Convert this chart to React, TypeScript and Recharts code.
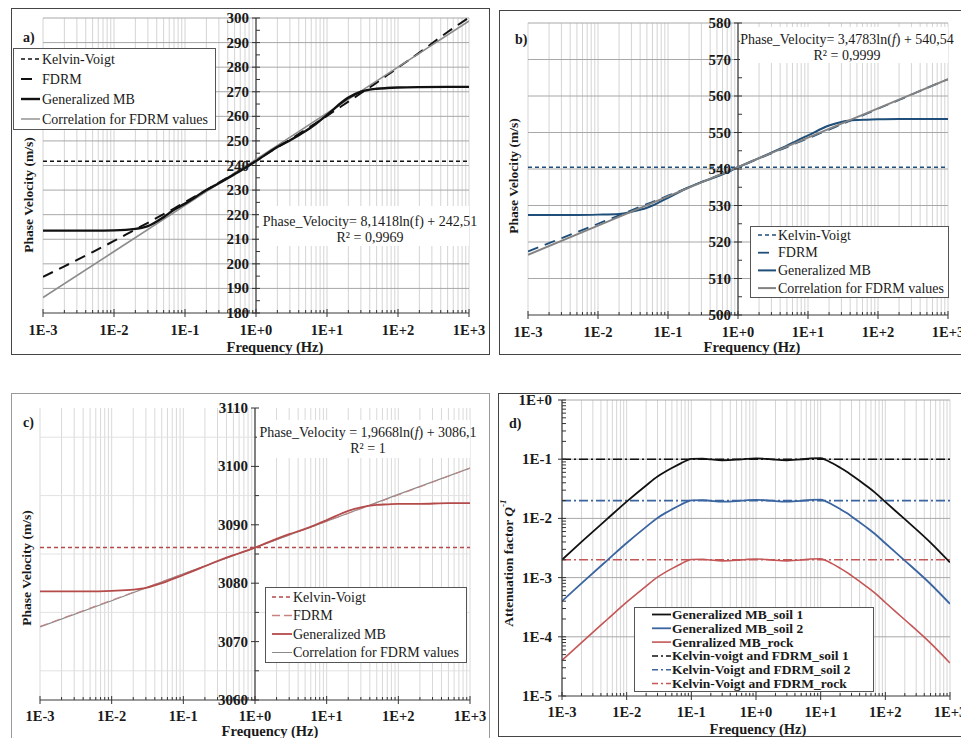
import React from 'react';
import { LineChart, Line, XAxis, YAxis, CartesianGrid } from 'recharts';

const FONT = '"Liberation Serif", "DejaVu Serif", "Times New Roman", serif';

// ---------- axes ----------
const DECADES = [0.001, 0.01, 0.1, 1, 10, 100, 1000];
const MULTS = [1, 2, 3, 4, 5, 6, 7, 8, 9];
const X_MINOR = DECADES.slice(0, -1)
  .flatMap((d) => MULTS.map((m) => Number((m * d).toPrecision(2))))
  .concat([1000]);
const Y_DECADES_D = [0.00001, 0.0001, 0.001, 0.01, 0.1];
const Y_TICKS_D = Y_DECADES_D.flatMap((d) => MULTS.map((m) => Number((m * d).toPrecision(2)))).concat([1]);
const range = (a: number, b: number, s: number) => {
  const out: number[] = [];
  for (let v = a; v <= b + 1e-9; v += s) out.push(Number(v.toFixed(4)));
  return out;
};
const Y_TICKS_A = range(180, 300, 5);
const Y_GRID_A = range(190, 300, 10);
const Y_TICKS_B = range(500, 580, 5);
const Y_GRID_B = range(510, 580, 10);
const Y_TICKS_C = range(3060, 3110, 5);
const Y_GRID_C = [3065, 3075, 3085, 3095, 3105];
const Y_GRID_D = [0.0001, 0.001, 0.01, 0.1, 1];

// ---------- data ----------
const FREQ = [0.001, 0.002, 0.005, 0.01, 0.02, 0.03, 0.05, 0.07, 0.1, 0.2, 0.3, 0.5, 0.7, 1, 2, 3, 5, 7, 10, 20, 30, 50, 70, 100, 200, 500, 1000];

// panel a
const A_KV = 241.7;
const A_FDRM = [194.7, 199.0, 204.8, 209.3, 214.0, 216.7, 220.2, 222.5, 225.1, 230.0, 233.0, 236.8, 239.3, 242.0, 247.4, 250.5, 254.6, 257.3, 260.2, 266.0, 269.4, 273.7, 276.7, 279.8, 285.9, 294.3, 300.2];
const A_GMB = [213.5, 213.5, 213.5, 213.6, 214.2, 215.3, 219.0, 222.0, 224.5, 230.0, 232.8, 236.5, 239.0, 241.8, 247.5, 250.2, 254.0, 257.0, 260.6, 267.6, 270.0, 271.2, 271.5, 271.7, 271.9, 272.0, 272.0];
const A_CORR = [186.3, 205.0, 223.8, 242.5, 261.3, 280.0, 298.8];

// panel b
const B_KV = 540.5;
const B_FDRM = [517.4, 519.7, 522.7, 525.0, 527.3, 528.7, 530.4, 531.5, 532.7, 535.0, 536.4, 538.1, 539.3, 540.5, 542.9, 544.3, 546.0, 547.2, 548.4, 550.8, 552.2, 554.0, 555.2, 556.5, 558.9, 562.2, 564.6];
const B_GMB = [527.4, 527.4, 527.4, 527.5, 527.7, 528.3, 529.4, 530.6, 532.1, 535.0, 536.4, 537.9, 539.1, 540.5, 543.0, 544.5, 546.4, 547.8, 549.2, 551.9, 552.9, 553.4, 553.5, 553.6, 553.7, 553.7, 553.7];
const B_CORR = [516.5, 524.5, 532.5, 540.5, 548.6, 556.6, 564.6];

// panel c
const C_KV = 3086.1;
const C_FDRM = [3072.6, 3077.1, 3081.6, 3086.1, 3090.6, 3095.1, 3099.7];
const C_GMB = [3078.6, 3078.6, 3078.6, 3078.7, 3078.9, 3079.2, 3080.0, 3080.7, 3081.4, 3082.9, 3083.8, 3084.8, 3085.4, 3086.1, 3087.6, 3088.4, 3089.3, 3090.0, 3090.8, 3092.4, 3093.0, 3093.4, 3093.5, 3093.6, 3093.6, 3093.7, 3093.7];
const C_CORR = [3072.5, 3077.0, 3081.6, 3086.1, 3090.6, 3095.2, 3099.7];

// panel d
const FREQ_D = [0.001, 0.002, 0.005, 0.01, 0.02, 0.03, 0.04, 0.05, 0.07, 0.085, 0.1, 0.15, 0.2, 0.3, 0.5, 0.7, 1, 1.5, 2, 3, 5, 7, 10, 12, 15, 20, 25, 30, 50, 70, 100, 200, 500, 1000];
const D_SOIL1 = [0.002, 0.004, 0.0098, 0.0192, 0.036, 0.051, 0.062, 0.071, 0.086, 0.095, 0.101, 0.102, 0.099, 0.096, 0.098, 0.101, 0.103, 0.101, 0.098, 0.096, 0.099, 0.103, 0.104, 0.097, 0.086, 0.072, 0.062, 0.054, 0.036, 0.027, 0.019, 0.0097, 0.0039, 0.0018];
const D_SOIL2 = [0.0004, 0.0008, 0.00196, 0.00384, 0.0072, 0.0102, 0.0124, 0.0142, 0.0172, 0.019, 0.0202, 0.0204, 0.0198, 0.0192, 0.0196, 0.0202, 0.0206, 0.0202, 0.0196, 0.0192, 0.0198, 0.0206, 0.0208, 0.0194, 0.0172, 0.0144, 0.0124, 0.0108, 0.0072, 0.0054, 0.0038, 0.00194, 0.00078, 0.00036];
const D_ROCK = [0.00004, 0.00008, 0.000196, 0.000384, 0.00072, 0.00102, 0.00124, 0.00142, 0.00172, 0.0019, 0.00202, 0.00204, 0.00198, 0.00192, 0.00196, 0.00202, 0.00206, 0.00202, 0.00196, 0.00192, 0.00198, 0.00206, 0.00208, 0.00194, 0.00172, 0.00144, 0.00124, 0.00108, 0.00072, 0.00054, 0.00038, 0.000194, 0.000078, 0.000036];
const D_KV_SOIL1 = 0.1;
const D_KV_SOIL2 = 0.02;
const D_KV_ROCK = 0.002;

type Pt = { f: number; v: number };
const zip = (fs: number[], vs: number[]): Pt[] => fs.map((f, i) => ({ f, v: vs[i] }));
const flat = (v: number): Pt[] => [{ f: DECADES[0], v }, { f: DECADES[DECADES.length - 1], v }];

// ---------- colours ----------
const BLACK = '#111111';
const GRAY = '#8c8c8c';
const NAVY = '#1f4e79';
const RED_C = '#b54a4a';
const RED_C_LIGHT = '#c98080';
const BLUE_D = '#3a65a0';
const RED_D = '#c55656';

const Y_AXIS_W = 20;

interface SeriesDef { data: Pt[]; stroke: string; width: number; dash?: string; curve?: 'linear' | 'monotone' }
interface PanelDef {
  left: number; top: number; width: number; height: number;
  plot: { top: number; right: number; bottom: number; left: number };
  yDomain: [number, number]; yTicks: number[]; yLog?: boolean;
  yMajor: (v: number) => boolean; yFmt: (v: number) => string;
  yCenter: boolean; yGap: number;
  hGrid: number[]; hGridColor: string; vGridColor: string;
  xLabelDy: number;
  series: SeriesDef[];
}

const isDecade = (v: number) => Math.abs(Math.log10(v) - Math.round(Math.log10(v))) < 1e-6;
const fmtE = (v: number) => {
  const e = Math.round(Math.log10(v));
  return `1E${e >= 0 ? '+' : '-'}${Math.abs(e)}`;
};

const xTick = (dy: number) => (props: any) => {
  const { x, y, payload } = props;
  const v = payload.value as number;
  const major = isDecade(v);
  return (
    <g>
      <line x1={x} x2={x} y1={major ? y - 4 : y - 3} y2={major ? y + 4 : y} stroke="#333" strokeWidth={1} />
      {major && (
        <text x={x} y={y + dy} textAnchor="middle" dominantBaseline="central" style={{ fontFamily: FONT }} fontWeight="bold" fontSize={14.5} fill="#1a1a1a">
          {fmtE(v)}
        </text>
      )}
    </g>
  );
};

const yTick = (shift: number, gap: number, isMajor: (v: number) => boolean, fmt: (v: number) => string) => (props: any) => {
  const X = props.x + shift;
  const y = props.y;
  const v = props.payload.value as number;
  const major = isMajor(v);
  return (
    <g>
      {major ? (
        <line x1={X - 4} x2={X + 4} y1={y} y2={y} stroke="#333" strokeWidth={1} />
      ) : (
        <line x1={X} x2={X + 4} y1={y} y2={y} stroke="#333" strokeWidth={1} />
      )}
      {major && (
        <text x={X - gap} y={y} textAnchor="end" dominantBaseline="central" style={{ fontFamily: FONT }} fontWeight="bold" fontSize={15} fill="#1a1a1a">
          {fmt(v)}
        </text>
      )}
    </g>
  );
};

function Panel({ p }: { p: PanelDef }) {
  const margin = {
    top: p.plot.top,
    right: p.plot.right,
    bottom: p.plot.bottom - 30,
    left: p.plot.left - Y_AXIS_W,
  };
  const plotW = p.width - p.plot.left - p.plot.right;
  const shift = p.yCenter ? plotW / 2 : 0;
  return (
    <div style={{ position: 'absolute', left: p.left, top: p.top }}>
      <LineChart width={p.width} height={p.height} margin={margin}>
        <CartesianGrid horizontal={false} verticalValues={X_MINOR} stroke={p.vGridColor} strokeWidth={1} />
        <CartesianGrid vertical={false} horizontalValues={p.hGrid} stroke={p.hGridColor} strokeWidth={1} />
        {p.yCenter && <CartesianGrid horizontal={false} verticalValues={[1]} stroke="#3a3a3a" strokeWidth={1.2} />}
        <XAxis
          dataKey="f"
          type="number"
          scale="log"
          domain={[0.001, 1000]}
          ticks={X_MINOR}
          interval={0}
          allowDataOverflow
          height={30}
          tickSize={0}
          tickMargin={0}
          axisLine={{ stroke: '#3a3a3a', strokeWidth: 1.2 }}
          tickLine={false}
          tick={xTick(p.xLabelDy)}
        />
        <YAxis
          type="number"
          scale={p.yLog ? 'log' : 'linear'}
          domain={p.yDomain}
          ticks={p.yTicks}
          interval={0}
          allowDataOverflow
          width={Y_AXIS_W}
          tickSize={0}
          tickMargin={0}
          axisLine={p.yCenter ? false : { stroke: '#3a3a3a', strokeWidth: 1.2 }}
          tickLine={false}
          tick={yTick(shift, p.yGap, p.yMajor, p.yFmt)}
        />
        {p.series.map((s, i) => (
          <Line
            key={i}
            data={s.data}
            dataKey="v"
            type={s.curve ?? 'linear'}
            stroke={s.stroke}
            strokeWidth={s.width}
            strokeDasharray={s.dash}
            dot={false}
            activeDot={false}
            isAnimationActive={false}
            legendType="none"
          />
        ))}
      </LineChart>
    </div>
  );
}

const PANEL_A: PanelDef = {
  left: 11, top: 8, width: 479, height: 347,
  plot: { top: 10, right: 21, bottom: 42, left: 32 },
  yDomain: [180, 300], yTicks: Y_TICKS_A, yMajor: (v) => v % 10 === 0, yFmt: (v) => String(v),
  yCenter: true, yGap: 7, hGrid: Y_GRID_A, hGridColor: '#a8a8a8', vGridColor: '#d4d4d4', xLabelDy: 17,
  series: [
    { data: flat(A_KV), stroke: BLACK, width: 1.5, dash: '4 3' },
    { data: zip(FREQ, A_FDRM), stroke: BLACK, width: 2, dash: '11 7', curve: 'monotone' },
    { data: zip(DECADES, A_CORR), stroke: GRAY, width: 1.6 },
    { data: zip(FREQ, A_GMB), stroke: BLACK, width: 2.4, curve: 'monotone' },
  ],
};

const PANEL_B: PanelDef = {
  left: 499, top: 10, width: 462, height: 345,
  plot: { top: 13, right: 13, bottom: 40, left: 29 },
  yDomain: [500, 580], yTicks: Y_TICKS_B, yMajor: (v) => v % 10 === 0, yFmt: (v) => String(v),
  yCenter: true, yGap: 7, hGrid: Y_GRID_B, hGridColor: '#a8a8a8', vGridColor: '#d4d4d4', xLabelDy: 17,
  series: [
    { data: flat(B_KV), stroke: NAVY, width: 1.5, dash: '4 3' },
    { data: zip(FREQ, B_FDRM), stroke: NAVY, width: 1.8, dash: '11 7', curve: 'monotone' },
    { data: zip(FREQ, B_GMB), stroke: NAVY, width: 2, curve: 'monotone' },
    { data: zip(DECADES, B_CORR), stroke: '#838383', width: 2 },
  ],
};

const PANEL_C: PanelDef = {
  left: 11, top: 393, width: 479, height: 345,
  plot: { top: 15, right: 20, bottom: 38, left: 29 },
  yDomain: [3060, 3110], yTicks: Y_TICKS_C, yMajor: (v) => v % 10 === 0, yFmt: (v) => String(v),
  yCenter: true, yGap: 7, hGrid: Y_GRID_C, hGridColor: '#e2e2e2', vGridColor: '#d9d9d9', xLabelDy: 16,
  series: [
    { data: flat(C_KV), stroke: RED_C, width: 1.5, dash: '4 3' },
    { data: zip(DECADES, C_CORR), stroke: '#8a8a8a', width: 1.2 },
    { data: zip(DECADES, C_FDRM), stroke: RED_C_LIGHT, width: 1, dash: '8 5' },
    { data: zip(FREQ, C_GMB), stroke: RED_C, width: 1.8, curve: 'monotone' },
  ],
};

const PANEL_D: PanelDef = {
  left: 498, top: 393, width: 463, height: 344,
  plot: { top: 7, right: 11, bottom: 41, left: 64 },
  yDomain: [0.00001, 1], yTicks: Y_TICKS_D, yLog: true, yMajor: isDecade, yFmt: fmtE,
  yCenter: false, yGap: 10, hGrid: Y_GRID_D, hGridColor: '#a8a8a8', vGridColor: '#d6d6d6', xLabelDy: 16,
  series: [
    { data: flat(D_KV_SOIL1), stroke: BLACK, width: 1.6, dash: '9 3 2 3' },
    { data: flat(D_KV_SOIL2), stroke: BLUE_D, width: 1.6, dash: '9 3 2 3' },
    { data: flat(D_KV_ROCK), stroke: RED_D, width: 1.6, dash: '9 3 2 3' },
    { data: zip(FREQ_D, D_SOIL1), stroke: BLACK, width: 1.8, curve: 'monotone' },
    { data: zip(FREQ_D, D_SOIL2), stroke: BLUE_D, width: 1.8, curve: 'monotone' },
    { data: zip(FREQ_D, D_ROCK), stroke: RED_D, width: 1.6, curve: 'monotone' },
  ],
};

interface LegendRow { label: string; stroke: string; width: number; dash?: string }
function LegendBox({ x, y, w, h, rows, y0, step, sx1, sx2, tx, size, bold }: {
  x: number; y: number; w: number; h: number; rows: LegendRow[]; y0: number; step: number;
  sx1: number; sx2: number; tx: number; size: number; bold?: boolean;
}) {
  return (
    <g>
      <rect x={x + 0.5} y={y + 0.5} width={w} height={h} fill="#fff" stroke="#555" strokeWidth={1} />
      {rows.map((r, i) => {
        const yy = y0 + i * step;
        return (
          <g key={i}>
            <line x1={sx1} x2={sx2} y1={yy} y2={yy} stroke={r.stroke} strokeWidth={r.width} strokeDasharray={r.dash} />
            <text x={tx} y={yy} dominantBaseline="central" style={{ fontFamily: FONT }} fontSize={size} fontWeight={bold ? 'bold' : 'normal'} fill="#1a1a1a">
              {r.label}
            </text>
          </g>
        );
      })}
    </g>
  );
}

const TS = { fontFamily: FONT } as const;

function YTitle({ x, y, children }: { x: number; y: number; children: React.ReactNode }) {
  return (
    <text x={x} y={y} transform={`rotate(-90 ${x} ${y})`} textAnchor="middle" dominantBaseline="central" fontSize={13.5} fontWeight="bold" fill="#1a1a1a" style={TS}>
      {children}
    </text>
  );
}
function XTitle({ x, y, children }: { x: number; y: number; children: React.ReactNode }) {
  return (
    <text x={x} y={y} textAnchor="middle" dominantBaseline="central" fontSize={14.5} fontWeight="bold" fill="#1a1a1a" style={TS}>
      {children}
    </text>
  );
}
function T({ x, y, children, size = 14, bold, anchor = 'start' }: { x: number; y: number; children: React.ReactNode; size?: number; bold?: boolean; anchor?: 'start' | 'middle' | 'end' }) {
  return (
    <text x={x} y={y} textAnchor={anchor} dominantBaseline="central" fontSize={size} fontWeight={bold ? 'bold' : 'normal'} fill="#1a1a1a" style={TS}>
      {children}
    </text>
  );
}

export default function App() {
  return (
    <div style={{ position: 'absolute', left: 0, top: 0, width: 961, height: 738, overflow: 'hidden', background: '#fff', fontFamily: FONT }}>
      <div style={{ position: 'absolute', left: 11, top: 8, width: 479, height: 347, border: '1px solid #444', boxSizing: 'border-box' }} />
      <div style={{ position: 'absolute', left: 499, top: 10, width: 480, height: 345, border: '1px solid #444', boxSizing: 'border-box' }} />
      <div style={{ position: 'absolute', left: 11, top: 393, width: 479, height: 360, border: '1px solid #999', boxSizing: 'border-box' }} />
      <div style={{ position: 'absolute', left: 498, top: 393, width: 480, height: 344, border: '1px solid #444', boxSizing: 'border-box' }} />

      <Panel p={PANEL_A} />
      <Panel p={PANEL_B} />
      <Panel p={PANEL_C} />
      <Panel p={PANEL_D} />

      <svg width={961} height={738} style={{ position: 'absolute', left: 0, top: 0, pointerEvents: 'none' }}>
        {/* panel a */}
        <T x={23} y={37} bold>a)</T>
        <LegendBox
          x={13} y={48} w={202} h={81} y0={59} step={20} sx1={21} sx2={40} tx={42} size={14}
          rows={[
            { label: 'Kelvin-Voigt', stroke: BLACK, width: 1.5, dash: '4 3' },
            { label: 'FDRM', stroke: BLACK, width: 2, dash: '11 9' },
            { label: 'Generalized MB', stroke: BLACK, width: 2.4 },
            { label: 'Correlation for FDRM values', stroke: GRAY, width: 1.4 },
          ]}
        />
        <rect x={259} y={206} width={210} height={40} fill="#fff" />
        <T x={370} y={221} anchor="middle">Phase_Velocity= 8,1418ln(f) + 242,51</T>
        <T x={370} y={237} anchor="middle">R² = 0,9969</T>
        <XTitle x={275} y={347}>Frequency (Hz)</XTitle>
        <YTitle x={28} y={195}>Phase Velocity (m/s)</YTitle>

        {/* panel b */}
        <T x={515} y={39} bold>b)</T>
        <LegendBox
          x={750} y={226} w={198} h={71} y0={235} step={17.7} sx1={758} sx2={776} tx={778} size={14}
          rows={[
            { label: 'Kelvin-Voigt', stroke: NAVY, width: 1.5, dash: '4 3' },
            { label: 'FDRM', stroke: NAVY, width: 1.8, dash: '11 9' },
            { label: 'Generalized MB', stroke: NAVY, width: 2 },
            { label: 'Correlation for FDRM values', stroke: '#838383', width: 2 },
          ]}
        />
        <rect x={740} y={27} width={208} height={36} fill="#fff" />
        <T x={847} y={39} anchor="middle">
          Phase_Velocity= 3,4783ln(<tspan fontStyle="italic">f</tspan>) + 540,54
        </T>
        <T x={847} y={55} anchor="middle">R² = 0,9999</T>
        <XTitle x={752} y={347}>Frequency (Hz)</XTitle>
        <YTitle x={513} y={176}>Phase Velocity (m/s)</YTitle>

        {/* panel c */}
        <T x={23} y={422} bold>c)</T>
        <LegendBox
          x={265} y={587} w={201} h={75} y0={597} step={18.5} sx1={272} sx2={292} tx={293} size={14}
          rows={[
            { label: 'Kelvin-Voigt', stroke: RED_C, width: 1.5, dash: '4 3' },
            { label: 'FDRM', stroke: RED_C_LIGHT, width: 1.5, dash: '8 4' },
            { label: 'Generalized MB', stroke: RED_C, width: 1.8 },
            { label: 'Correlation for FDRM values', stroke: '#8a8a8a', width: 1 },
          ]}
        />
        <rect x={257} y={420} width={213} height={38} fill="#fff" />
        <T x={368} y={432} anchor="middle">
          Phase_Velocity = 1,9668ln(<tspan fontStyle="italic">f</tspan>) + 3086,1
        </T>
        <T x={368} y={448} anchor="middle">R² = 1</T>
        <XTitle x={270} y={731}>Frequency (Hz)</XTitle>
        <YTitle x={26} y={568}>Phase Velocity (m/s)</YTitle>

        {/* panel d */}
        <T x={509} y={423} bold>d)</T>
        <LegendBox
          x={634} y={607} w={239} h={84} y0={614.5} step={13.8} sx1={652} sx2={671} tx={672} size={13.5} bold
          rows={[
            { label: 'Generalized MB_soil 1', stroke: BLACK, width: 1.8 },
            { label: 'Generalized MB_soil 2', stroke: BLUE_D, width: 1.8 },
            { label: 'Genralized MB_rock', stroke: RED_D, width: 1.6 },
            { label: 'Kelvin-voigt and FDRM_soil 1', stroke: BLACK, width: 1.5, dash: '6 3 2 3' },
            { label: 'Kelvin-Voigt and FDRM_soil 2', stroke: BLUE_D, width: 1.5, dash: '6 3 2 3' },
            { label: 'Kelvin-Voigt and FDRM_rock', stroke: RED_D, width: 1.5, dash: '6 3 2 3' },
          ]}
        />
        <XTitle x={758} y={729}>Frequency (Hz)</XTitle>
        <YTitle x={508} y={563}>
          Attenuation factor <tspan fontStyle="italic">Q</tspan>
          <tspan fontStyle="italic" fontSize={9} dy={-5}>-1</tspan>
        </YTitle>
      </svg>
    </div>
  );
}
